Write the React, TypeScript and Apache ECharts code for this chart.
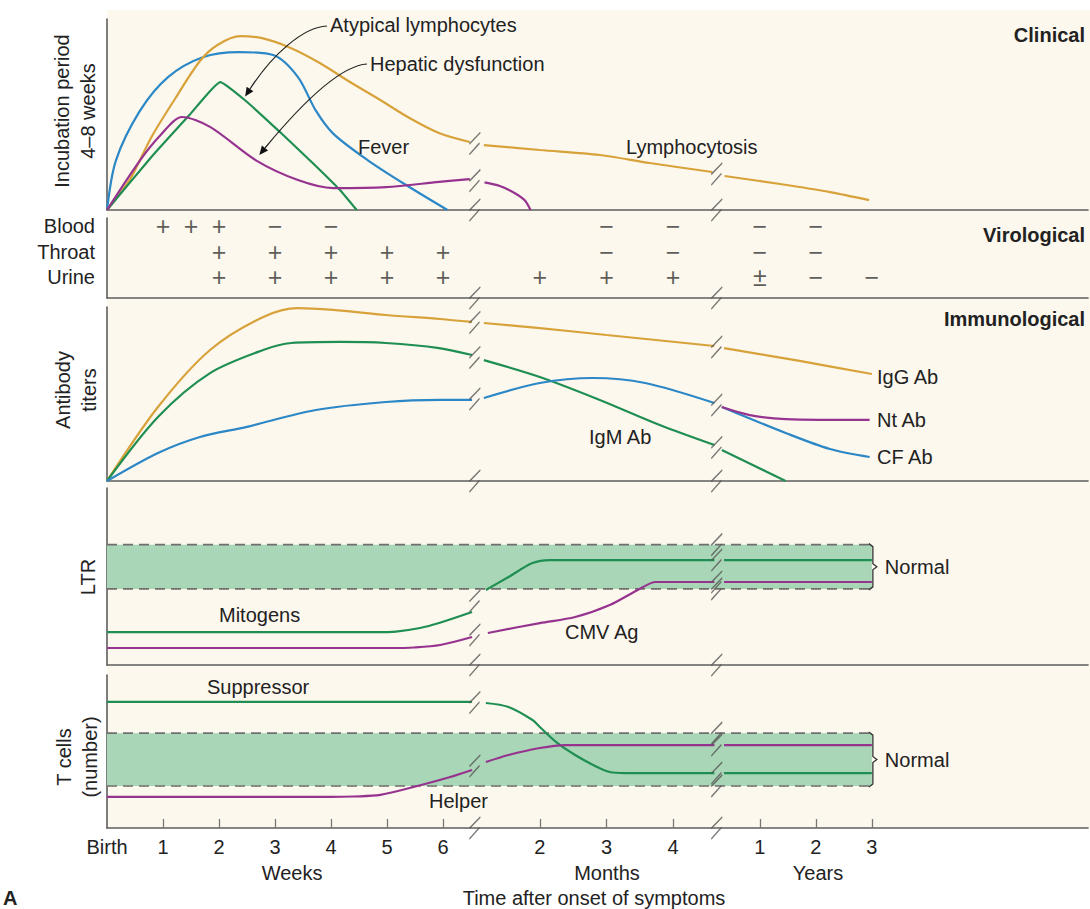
import React, { useEffect, useRef } from 'react';
import * as echarts from 'echarts';

const FONT = '"Liberation Sans", Arial, Helvetica, sans-serif';
const INK = '#222';
const AXIS_COLOR = '#5e5e5e';
const ORANGE = '#d8a23a';
const BLUE = '#2b87c6';
const GREEN = '#1e8e52';
const PURPLE = '#96338f';
const BAND = '#a9d6b6';

// ---------- broken time axis (axis unit = 1 week) ----------
type Seg = 'w' | 'm' | 'y';
const WEEK_TICKS = [1, 2, 3, 4, 5, 6];
const MONTH_TICKS = [2, 3, 4];
const YEAR_TICKS = [1, 2, 3];
const MONTH_START = 7.73;
const MONTH_STEP = 1.19;
const YEAR_START = 11.66;
const YEAR_STEP = 1.0;
const BREAK_1 = 6.57;
const BREAK_2 = 10.89;
const X_MAX = 17.52;
const toX = (seg: Seg, t: number) =>
  seg === 'w' ? t : seg === 'm' ? MONTH_START + (t - 2) * MONTH_STEP : YEAR_START + (t - 1) * YEAR_STEP;

const TICK_LABELS = ['Birth', ...WEEK_TICKS.map(String), ...MONTH_TICKS.map(String), ...YEAR_TICKS.map(String)];
const TICK_VALUES = [0, ...WEEK_TICKS.map((w) => toX('w', w)), ...MONTH_TICKS.map((m) => toX('m', m)), ...YEAR_TICKS.map((y) => toX('y', y))];

type Curve = { w?: number[][]; m?: number[][]; y?: number[][] };

// ---------- Clinical ----------
const LYMPHOCYTOSIS: Curve = {
  w: [[0, 0], [0.41, 16], [0.79, 38], [1.21, 58], [1.66, 78], [1.98, 86.5], [2.38, 91], [2.77, 90], [3.27, 85], [3.8, 77], [4.34, 67], [4.88, 57.6], [5.41, 48], [5.95, 40], [6.48, 35.6]],
  m: [[1.16, 34], [2, 31.4], [2.9, 28.8], [3.65, 24.6], [4.59, 19.9]],
  y: [[0.37, 17.8], [1.36, 13.6], [2.25, 9.4], [2.95, 5.2]],
};
const FEVER: Curve = {
  w: [[0, 0], [0.16, 26], [0.59, 52], [1.09, 69.6], [1.71, 80], [2.36, 82.7], [2.98, 81], [3.41, 69.6], [3.73, 52], [4.04, 40], [4.66, 26], [5.29, 14], [6.08, 0]],
};
const ATYPICAL_LYMPHOCYTES: Curve = {
  w: [[0, 0], [0.77, 27], [1.48, 50], [2.02, 67], [2.46, 57.6], [3.09, 40.8], [3.71, 23.6], [4.16, 10.5], [4.46, 0]],
};
const HEPATIC_DYSFUNCTION: Curve = {
  w: [[0, 0], [0.59, 26], [0.95, 39], [1.34, 48.7], [1.84, 43.5], [2.66, 26], [3.41, 15.7], [4.04, 11.5], [4.98, 12], [5.93, 14.7], [6.48, 16.2]],
  m: [[1.17, 14.5], [1.4, 12.6], [1.62, 8.9], [1.77, 5.2], [1.86, 0]],
};

// ---------- Virological ----------
const VIRO_ROWS = ['Blood', 'Throat', 'Urine'];
const BLOOD_SIGNS: [Seg, number, string][] = [['w', 1, '+'], ['w', 1.5, '+'], ['w', 2, '+'], ['w', 3, '−'], ['w', 4, '−'], ['m', 3, '−'], ['m', 4, '−'], ['y', 1, '−'], ['y', 2, '−']];
const THROAT_SIGNS: [Seg, number, string][] = [['w', 2, '+'], ['w', 3, '+'], ['w', 4, '+'], ['w', 5, '+'], ['w', 6, '+'], ['m', 3, '−'], ['m', 4, '−'], ['y', 1, '−'], ['y', 2, '−']];
const URINE_SIGNS: [Seg, number, string][] = [['w', 2, '+'], ['w', 3, '+'], ['w', 4, '+'], ['w', 5, '+'], ['w', 6, '+'], ['m', 2, '+'], ['m', 3, '+'], ['m', 4, '+'], ['y', 1, '±'], ['y', 2, '−'], ['y', 3, '−']];

// ---------- Immunological ----------
const IGG_AB: Curve = {
  w: [[0, 0], [0.91, 42.5], [1.84, 75.3], [2.79, 94.3], [3.41, 99.4], [4.04, 98.3], [4.98, 95.4], [5.95, 93.1], [6.52, 91.4]],
  m: [[1.16, 90.8], [2, 87.9], [3, 83.9], [4.62, 77.6]],
  y: [[0.36, 76.4], [1.71, 69], [3, 61.5]],
};
const IGM_AB: Curve = {
  w: [[0, 0], [0.91, 36.8], [1.84, 62], [2.79, 75.3], [3.29, 79.3], [4.16, 79.9], [4.98, 79.3], [5.93, 76.4], [6.52, 72.4]],
  m: [[1.16, 69.5], [2, 59.8], [2.9, 46.6], [3.8, 32.2], [4.62, 20.7]],
  y: [[0.32, 17.8], [1.46, 0]],
};
const CF_AB: Curve = {
  w: [[0, 0], [0.91, 16.1], [1.66, 25.3], [2.48, 31], [3.73, 40.8], [4.98, 45.4], [5.95, 46.6], [6.52, 46.6]],
  m: [[1.16, 47.7], [2, 56.3], [2.8, 59.2], [3.58, 56.3], [4.62, 44.8]],
  y: [[0.32, 42.5], [1.46, 27.6], [2.25, 18.4], [2.96, 13.8]],
};
const NT_AB: Curve = {
  y: [[0.32, 42.5], [0.82, 37.9], [1.46, 35.6], [2.96, 35.1]],
};

// ---------- LTR ----------
const LTR_NORMAL = [43, 68];
const MITOGENS: Curve = {
  w: [[0, 18.6], [4.8, 18.6], [5.16, 18.9], [5.59, 20.9], [5.93, 23.7], [6.52, 29.9]],
  m: [[1.19, 42.4], [1.53, 49.7], [1.89, 57.6], [2.15, 59.3], [4.62, 59.3]],
  y: [[0.36, 59.3], [3, 59.3]],
};
const CMV_AG: Curve = {
  w: [[0, 9.6], [5.1, 9.6], [5.48, 9.9], [5.95, 11.3], [6.52, 15.8]],
  m: [[1.22, 18.1], [2, 23.7], [2.53, 27.1], [3.05, 33.9], [3.47, 42.4], [3.74, 46.9], [4.62, 46.9]],
  y: [[0.36, 46.9], [3, 46.9]],
};

// ---------- T cells ----------
const T_NORMAL = [27.5, 62];
const SUPPRESSOR: Curve = {
  w: [[0, 82.4], [6.52, 82.4]],
  m: [[1.19, 81.7], [1.53, 79.1], [1.89, 70.6], [2, 66], [2.26, 55.6], [2.53, 47.7], [2.8, 41.2], [3.05, 36.6], [3.28, 35.9], [4.62, 35.9]],
  y: [[0.36, 35.9], [3, 35.9]],
};
const HELPER: Curve = {
  w: [[0, 20.3], [4.0, 20.3], [4.4, 20.6], [4.88, 21.6], [5.61, 28.1], [6.13, 33.3], [6.52, 37.9]],
  m: [[1.19, 43.1], [1.53, 47.7], [2, 52.3], [2.38, 54.2], [4.62, 54.2]],
  y: [[0.36, 54.2], [3, 54.2]],
};

// ---------- layout ----------
const GRID_LEFT = 107;
const GRIDS = [
  { top: 19, height: 191 }, // clinical
  { top: 218, height: 80 }, // virological frame
  { top: 307, height: 174 }, // immunological
  { top: 488, height: 177 }, // LTR
  { top: 675, height: 153 }, // T cells
  { top: 213, height: 77 }, // virological rows
];

function curveSeries(curve: Curve, grid: number, color: string, smooth = 0.3) {
  const out: any[] = [];
  (['w', 'm', 'y'] as Seg[]).forEach((seg) => {
    const pts = curve[seg];
    if (!pts) return;
    out.push({
      type: 'line',
      xAxisIndex: grid,
      yAxisIndex: grid,
      data: pts.map(([t, v]) => [toX(seg, t), v]),
      smooth,
      symbol: 'none',
      silent: true,
      z: 3,
      lineStyle: { color, width: 2.2 },
    });
  });
  return out;
}

function curveBreaks(curve: Curve): number[][] {
  const res: number[][] = [];
  if (curve.w && curve.m) res.push([BREAK_1, (curve.w[curve.w.length - 1][1] + curve.m[0][1]) / 2]);
  if (curve.m && curve.y) res.push([BREAK_2, (curve.m[curve.m.length - 1][1] + curve.y[0][1]) / 2]);
  return res;
}

const BREAK_SYMBOL = 'path://M0 13 L13 0 M0 25 L12 12';
function breakSeries(grid: number, pts: number[][]) {
  return {
    type: 'scatter',
    xAxisIndex: grid,
    yAxisIndex: grid,
    data: pts,
    symbol: BREAK_SYMBOL,
    symbolSize: [11, 22],
    silent: true,
    z: 5,
    itemStyle: { color: 'rgba(0,0,0,0)', borderColor: '#555', borderWidth: 1.3 },
  };
}

function bandSeries(grid: number, range: number[]) {
  const xEnd = toX('y', YEAR_TICKS[YEAR_TICKS.length - 1]);
  const dashed = (v: number) => ({
    type: 'line',
    xAxisIndex: grid,
    yAxisIndex: grid,
    data: [[0, v], [xEnd, v]],
    symbol: 'none',
    silent: true,
    z: 2,
    lineStyle: { color: '#6e6e6e', width: 1.6, type: [10, 6] },
  });
  const lo = dashed(range[0]) as any;
  lo.markArea = {
    silent: true,
    itemStyle: { color: BAND },
    data: [[{ coord: [0, range[0]] }, { coord: [xEnd, range[1]] }]],
  };
  return [lo, dashed(range[1])];
}

function signSeries(row: string, signs: [Seg, number, string][]) {
  return {
    type: 'scatter',
    xAxisIndex: 5,
    yAxisIndex: 5,
    data: signs.map(([seg, t, s]) => [toX(seg, t), row, s]),
    symbolSize: 1,
    silent: true,
    itemStyle: { color: 'rgba(0,0,0,0)' },
    label: {
      show: true,
      position: 'inside',
      formatter: (p: any) => p.value[2],
      fontFamily: FONT,
      fontSize: 25,
      lineHeight: 22,
      color: '#333',
    },
  };
}

function buildOption() {
  const xAxes = GRIDS.map((_, i) => ({
    type: 'value',
    gridIndex: i,
    min: 0,
    max: X_MAX,
    show: i !== 5,
    axisLine: { show: true, onZero: false, lineStyle: { color: AXIS_COLOR, width: 1.6 } },
    splitLine: { show: false },
    axisTick:
      i === 4
        ? { show: true, inside: true, length: 9, customValues: TICK_VALUES.slice(1), lineStyle: { color: '#777', width: 1.3 } }
        : { show: false },
    axisLabel:
      i === 4
        ? {
            show: true,
            customValues: TICK_VALUES,
            margin: 9,
            fontFamily: FONT,
            fontSize: 20,
            color: INK,
            formatter: (v: number) => {
              const k = TICK_VALUES.findIndex((t) => Math.abs(t - v) < 1e-6);
              return k >= 0 ? TICK_LABELS[k] : '';
            },
          }
        : { show: false },
  }));
  const yAxes: any[] = GRIDS.map((_, i) =>
    i === 5
      ? {
          type: 'category',
          gridIndex: 5,
          data: VIRO_ROWS,
          inverse: true,
          axisLine: { show: false },
          axisTick: { show: false },
          splitLine: { show: false },
          axisLabel: { show: true, interval: 0, margin: 12, fontFamily: FONT, fontSize: 20, lineHeight: 22, color: INK },
        }
      : {
          type: 'value',
          gridIndex: i,
          min: 0,
          max: 100,
          axisLine: { show: true, lineStyle: { color: AXIS_COLOR, width: 1.6 } },
          axisTick: { show: false },
          axisLabel: { show: false },
          splitLine: { show: false },
        }
  );

  const series: any[] = [
    ...curveSeries(FEVER, 0, BLUE),
    ...curveSeries(LYMPHOCYTOSIS, 0, ORANGE),
    ...curveSeries(ATYPICAL_LYMPHOCYTES, 0, GREEN, 0.12),
    ...curveSeries(HEPATIC_DYSFUNCTION, 0, PURPLE),
    breakSeries(0, [[BREAK_1, 0], [BREAK_2, 0], ...curveBreaks(LYMPHOCYTOSIS), ...curveBreaks(HEPATIC_DYSFUNCTION)]),

    breakSeries(1, [[BREAK_1, 0], [BREAK_2, 0]]),
    signSeries(VIRO_ROWS[0], BLOOD_SIGNS),
    signSeries(VIRO_ROWS[1], THROAT_SIGNS),
    signSeries(VIRO_ROWS[2], URINE_SIGNS),

    ...curveSeries(IGG_AB, 2, ORANGE),
    ...curveSeries(IGM_AB, 2, GREEN),
    ...curveSeries(CF_AB, 2, BLUE),
    ...curveSeries(NT_AB, 2, PURPLE),
    breakSeries(2, [[BREAK_1, 0], [BREAK_2, 0], ...curveBreaks(IGG_AB), ...curveBreaks(IGM_AB), ...curveBreaks(CF_AB)]),

    ...bandSeries(3, LTR_NORMAL),
    ...curveSeries(MITOGENS, 3, GREEN),
    ...curveSeries(CMV_AG, 3, PURPLE),
    breakSeries(3, [[BREAK_1, 0], [BREAK_2, 0], [BREAK_2, LTR_NORMAL[0]], [BREAK_2, LTR_NORMAL[1]], ...curveBreaks(MITOGENS), ...curveBreaks(CMV_AG)]),

    ...bandSeries(4, T_NORMAL),
    ...curveSeries(SUPPRESSOR, 4, GREEN),
    ...curveSeries(HELPER, 4, PURPLE),
    breakSeries(4, [[BREAK_1, 0], [BREAK_2, 0], [BREAK_2, T_NORMAL[0]], [BREAK_2, T_NORMAL[1]], ...curveBreaks(SUPPRESSOR), ...curveBreaks(HELPER)]),
  ];

  return {
    animation: false,
    backgroundColor: '#ffffff',
    textStyle: { fontFamily: FONT },
    grid: GRIDS.map((g) => ({ left: GRID_LEFT, right: 2, top: g.top, height: g.height, containLabel: false })),
    xAxis: xAxes,
    yAxis: yAxes,
    series,
  };
}

function txt(x: number, y: number, text: string, extra: any = {}, styleExtra: any = {}) {
  return {
    type: 'text',
    x,
    y,
    silent: true,
    z: 10,
    ...extra,
    style: { text, fontFamily: FONT, fontSize: 20, fill: INK, align: 'left', verticalAlign: 'middle', ...styleExtra },
  };
}

function arrow(x1: number, y1: number, c1x: number, c1y: number, c2x: number, c2y: number, x2: number, y2: number) {
  const dx = x2 - c2x;
  const dy = y2 - c2y;
  const len = Math.hypot(dx, dy);
  const ux = dx / len;
  const uy = dy / len;
  const tipX = x2 + ux * 9;
  const tipY = y2 + uy * 9;
  const px = -uy * 4;
  const py = ux * 4;
  return [
    {
      type: 'bezierCurve',
      silent: true,
      z: 10,
      shape: { x1, y1, cpx1: c1x, cpy1: c1y, cpx2: c2x, cpy2: c2y, x2, y2 },
      style: { stroke: '#222', lineWidth: 1.2, fill: null },
    },
    {
      type: 'polygon',
      silent: true,
      z: 10,
      shape: { points: [[tipX, tipY], [x2 + px, y2 + py], [x2 - px, y2 - py]] },
      style: { fill: '#111' },
    },
  ];
}

function brace(chart: any, grid: number, range: number[], label: string) {
  const xEnd = toX('y', YEAR_TICKS[YEAR_TICKS.length - 1]);
  const a = chart.convertToPixel({ gridIndex: grid }, [xEnd, range[1]]);
  const b = chart.convertToPixel({ gridIndex: grid }, [xEnd, range[0]]);
  const x = a[0];
  const top = a[1];
  const bot = b[1];
  const mid = (top + bot) / 2;
  return [
    {
      type: 'polyline',
      silent: true,
      z: 10,
      shape: { points: [[x - 3, top - 1], [x + 1, top + 2], [x + 1, mid - 3], [x + 5, mid], [x + 1, mid + 3], [x + 1, bot - 2], [x - 3, bot + 1]] },
      style: { stroke: '#333', lineWidth: 1.3, fill: null },
    },
    txt(x + 13, mid, label),
  ];
}

function buildGraphics(chart: any) {
  const els: any[] = [
    {
      type: 'rect',
      silent: true,
      z: -10,
      shape: { x: GRID_LEFT, y: 10, width: 1090 - GRID_LEFT, height: 818 },
      style: { fill: '#fdf8ee' },
    },
    // panel titles
    txt(1085, 35, 'Clinical', {}, { align: 'right', fontWeight: 'bold' }),
    txt(1085, 235, 'Virological', {}, { align: 'right', fontWeight: 'bold' }),
    txt(1085, 319, 'Immunological', {}, { align: 'right', fontWeight: 'bold' }),
    // left rotated labels
    txt(75, 111, 'Incubation period\n4–8 weeks', { rotation: Math.PI / 2 }, { align: 'center', lineHeight: 26 }),
    txt(76, 390, 'Antibody\ntiters', { rotation: Math.PI / 2 }, { align: 'center', lineHeight: 26 }),
    txt(88, 577, 'LTR', { rotation: Math.PI / 2 }, { align: 'center' }),
    txt(77, 757, 'T cells\n(number)', { rotation: Math.PI / 2 }, { align: 'center', lineHeight: 26 }),
    // clinical annotations
    txt(330, 25, 'Atypical lymphocytes'),
    txt(370, 64, 'Hepatic dysfunction'),
    ...arrow(327, 26, 303, 27, 272, 55, 250, 89),
    ...arrow(367, 64, 338, 66, 298, 108, 265, 148),
    txt(358, 147, 'Fever'),
    txt(626, 147, 'Lymphocytosis'),
    // immunological
    txt(877, 377, 'IgG Ab'),
    txt(877, 420, 'Nt Ab'),
    txt(877, 457, 'CF Ab'),
    txt(589, 437, 'IgM Ab'),
    // LTR / T cells
    txt(219, 615, 'Mitogens'),
    txt(565, 632, 'CMV Ag'),
    txt(207, 687, 'Suppressor'),
    txt(429, 801, 'Helper'),
    ...brace(chart, 3, LTR_NORMAL, 'Normal'),
    ...brace(chart, 4, T_NORMAL, 'Normal'),
    // axis group titles
    txt(292, 873, 'Weeks', {}, { align: 'center' }),
    txt(607, 873, 'Months', {}, { align: 'center' }),
    txt(818, 873, 'Years', {}, { align: 'center' }),
    txt(594, 898, 'Time after onset of symptoms', {}, { align: 'center' }),
    txt(3, 898, 'A', {}, { fontWeight: 'bold' }),
  ];
  return els;
}

export default function App() {
  const ref = useRef<HTMLDivElement>(null);
  useEffect(() => {
    const chart = echarts.init(ref.current!, null, { renderer: 'svg' });
    chart.setOption(buildOption() as any);
    chart.setOption({ graphic: { elements: buildGraphics(chart) } } as any);
    return () => chart.dispose();
  }, []);
  return <div ref={ref} style={{ position: 'absolute', left: 0, top: 0, width: 1090, height: 909, background: '#fff' }} />;
}
